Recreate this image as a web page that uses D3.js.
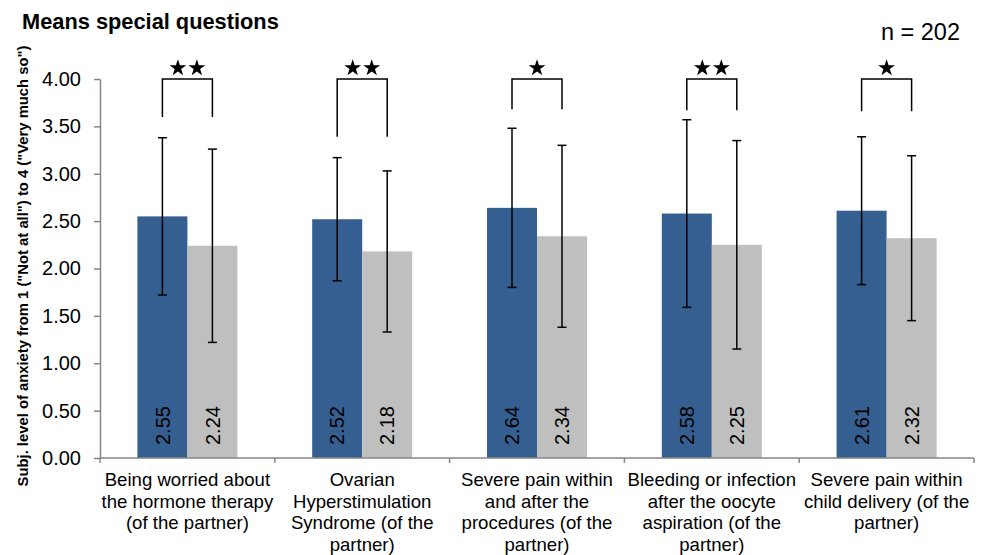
<!DOCTYPE html>
<html>
<head>
<meta charset="utf-8">
<script src="https://cdn.jsdelivr.net/npm/d3@7"></script>
<style>
  body { margin: 0; background: #fff; }
  text { font-family: "Liberation Sans", Arial, sans-serif; fill: #000; }
</style>
</head>
<body>
<div id="chart"></div>
<script>
var svgWidth = 982;
var svgHeight = 555;

// data
var categories = [
  ["Being worried about", "the hormone therapy", "(of the partner)"],
  ["Ovarian", "Hyperstimulation", "Syndrome (of the", "partner)"],
  ["Severe pain within", "and after the", "procedures (of the", "partner)"],
  ["Bleeding or infection", "after the oocyte", "aspiration (of the", "partner)"],
  ["Severe pain within", "child delivery (of the", "partner)"]
];
var seriesA = [2.55, 2.52, 2.64, 2.58, 2.61];
var seriesB = [2.24, 2.18, 2.34, 2.25, 2.32];
var sdA = [0.83, 0.65, 0.84, 0.99, 0.78];
var sdB = [1.02, 0.85, 0.96, 1.10, 0.87];
var stars = [2, 2, 1, 2, 1];
var bracketLeg = [3.60, 3.39, 3.68, 3.67, 3.66];
var bracketTop = 4.0;
var yTicks = [0, 0.5, 1, 1.5, 2, 2.5, 3, 3.5, 4];

var colorA = "#365f91";
var colorB = "#bfbfbf";
var axisColor = "#868686";

var plotLeft = 100, plotRight = 974, plotTop = 79, plotBottom = 458;

var svg = d3.select("#chart")
  .append("svg")
  .attr("width", svgWidth)
  .attr("height", svgHeight);

var idx = d3.range(categories.length);

var x0 = d3.scaleBand()
  .domain(idx)
  .range([plotLeft, plotRight])
  .padding(0);

var bw = x0.bandwidth();
var x1 = d3.scaleBand()
  .domain(["a", "b"])
  .range([bw / 2 - 50, bw / 2 + 50]);

var y = d3.scaleLinear()
  .domain([0, 4])
  .range([plotBottom, plotTop]);

// title and n
svg.append("text")
  .attr("x", 22)
  .attr("y", 29)
  .style("font-weight", "bold")
  .style("font-size", "21.8px")
  .text("Means special questions");

svg.append("text")
  .attr("x", 960)
  .attr("y", 40)
  .attr("text-anchor", "end")
  .style("font-size", "23.5px")
  .text("n = 202");

// y axis
var yAxis = svg.append("g")
  .attr("transform", `translate(${plotLeft},0)`)
  .call(d3.axisLeft(y).tickValues(yTicks).tickFormat(d3.format(".2f")).tickSize(6).tickSizeOuter(0));
yAxis.select(".domain").attr("stroke", axisColor).attr("stroke-width", 1.5);
yAxis.selectAll(".tick line").attr("stroke", axisColor).attr("stroke-width", 1.5);
yAxis.selectAll(".tick text")
  .attr("x", -19)
  .style("font-size", "20px")
  .style("font-family", "Liberation Sans, Arial, sans-serif")
  .attr("fill", "#000");

svg.append("text")
  .attr("transform", `translate(28, 266) rotate(-90)`)
  .attr("text-anchor", "middle")
  .style("font-weight", "bold")
  .style("font-size", "14.8px")
  .text('Subj. level of anxiety from 1 ("Not at all") to 4 ("Very much so")');

// bars
var groups = svg.selectAll(".cat")
  .data(idx)
  .enter()
  .append("g")
  .attr("class", "cat")
  .attr("transform", d => `translate(${x0(d)},0)`);

var barData = function(i) {
  return [
    { key: "a", v: seriesA[i], sd: sdA[i], c: colorA },
    { key: "b", v: seriesB[i], sd: sdB[i], c: colorB }
  ];
};

groups.selectAll("rect")
  .data(barData)
  .enter()
  .append("rect")
  .attr("x", d => x1(d.key))
  .attr("y", d => y(d.v))
  .attr("width", x1.bandwidth())
  .attr("height", d => y(0) - y(d.v))
  .attr("fill", d => d.c);

// value labels inside bars
groups.selectAll(".val")
  .data(barData)
  .enter()
  .append("text")
  .attr("class", "val")
  .attr("transform", d => `translate(${x1(d.key) + x1.bandwidth() / 2}, 445) rotate(-90)`)
  .attr("dy", "0.36em")
  .style("font-size", "20px")
  .text(d => d3.format(".2f")(d.v));

// error bars
var eb = groups.selectAll(".err")
  .data(barData)
  .enter()
  .append("g")
  .attr("class", "err")
  .attr("stroke", "#000")
  .attr("stroke-width", 1.5);

eb.append("line")
  .attr("x1", d => x1(d.key) + x1.bandwidth() / 2)
  .attr("x2", d => x1(d.key) + x1.bandwidth() / 2)
  .attr("y1", d => y(d.v + d.sd))
  .attr("y2", d => y(d.v - d.sd));
eb.append("line")
  .attr("x1", d => x1(d.key) + x1.bandwidth() / 2 - 4.5)
  .attr("x2", d => x1(d.key) + x1.bandwidth() / 2 + 4.5)
  .attr("y1", d => y(d.v + d.sd))
  .attr("y2", d => y(d.v + d.sd));
eb.append("line")
  .attr("x1", d => x1(d.key) + x1.bandwidth() / 2 - 4.5)
  .attr("x2", d => x1(d.key) + x1.bandwidth() / 2 + 4.5)
  .attr("y1", d => y(d.v - d.sd))
  .attr("y2", d => y(d.v - d.sd));

// significance brackets
var xa = x1("a") + x1.bandwidth() / 2;
var xb = x1("b") + x1.bandwidth() / 2;
groups.append("path")
  .attr("fill", "none")
  .attr("stroke", "#000")
  .attr("stroke-width", 1.5)
  .attr("d", d => `M${xa},${y(bracketLeg[d])}V${y(bracketTop)}H${xb}V${y(bracketLeg[d])}`);

var starShape = d3.symbol().type(d3.symbolStar).size(88);
groups.each(function(d) {
  var g = d3.select(this);
  var n = stars[d];
  for (var k = 0; k < n; k++) {
    var cx = (xa + xb) / 2 + (k - (n - 1) / 2) * 19;
    g.append("path")
      .attr("d", starShape())
      .attr("transform", `translate(${cx},68)`)
      .attr("fill", "#000");
  }
});

// x axis
var xAxisG = svg.append("g");
xAxisG.append("line")
  .attr("x1", plotLeft).attr("x2", plotRight)
  .attr("y1", plotBottom).attr("y2", plotBottom)
  .attr("stroke", axisColor).attr("stroke-width", 1.5);
xAxisG.selectAll(".xt")
  .data(d3.range(categories.length + 1))
  .enter()
  .append("line")
  .attr("x1", d => plotLeft + d * bw)
  .attr("x2", d => plotLeft + d * bw)
  .attr("y1", plotBottom)
  .attr("y2", plotBottom + 5)
  .attr("stroke", axisColor).attr("stroke-width", 1.5);

// category labels
groups.append("text")
  .attr("text-anchor", "middle")
  .style("font-size", "18.6px")
  .selectAll("tspan")
  .data(d => categories[d])
  .enter()
  .append("tspan")
  .attr("x", bw / 2)
  .attr("y", (d, i) => 486 + i * 21.5)
  .text(d => d);
</script>
</body>
</html>
